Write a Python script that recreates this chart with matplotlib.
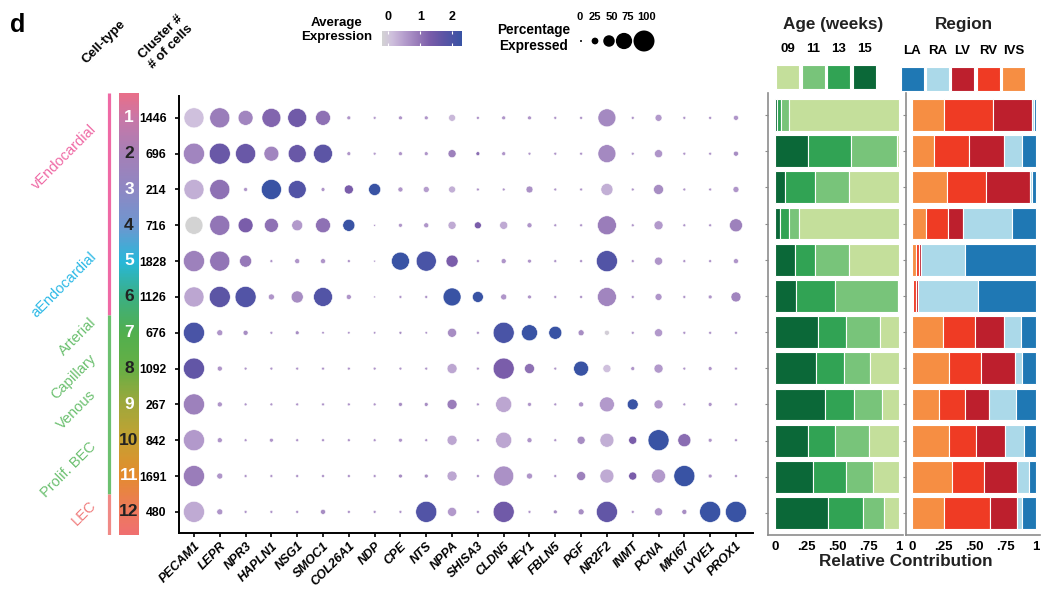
import numpy as np
import matplotlib
matplotlib.use("Agg")
import matplotlib.pyplot as plt
from matplotlib.colors import LinearSegmentedColormap, Normalize
from matplotlib.patches import Rectangle

plt.rcParams['font.family'] = ['Liberation Sans', 'DejaVu Sans']
plt.rcParams['font.weight'] = 'bold'

# --- data ---
genes = ["PECAM1", "LEPR", "NPR3", "HAPLN1", "NSG1", "SMOC1", "COL26A1", "NDP",
         "CPE", "NTS", "NPPA", "SHISA3", "CLDN5", "HEY1", "FBLN5", "PGF",
         "NR2F2", "INMT", "PCNA", "MKI67", "LYVE1", "PROX1"]
clusters = [str(i) for i in range(1, 13)]
n_cells = [1446, 696, 214, 716, 1828, 1126, 676, 1092, 267, 842, 1691, 480]

# percentage of cells expressing (rows = clusters, cols = genes)
pct_expr = [
    [95, 95, 68, 89, 89, 68, 10, 5, 10, 10, 26, 5, 10, 10, 5, 5, 84, 5, 26, 5, 5, 16],
    [100, 100, 95, 68, 84, 89, 10, 5, 10, 10, 32, 10, 10, 5, 5, 5, 84, 5, 32, 5, 5, 16],
    [95, 95, 10, 95, 84, 10, 37, 53, 16, 21, 26, 5, 5, 26, 5, 5, 53, 5, 42, 5, 5, 21],
    [84, 95, 68, 63, 47, 68, 53, 0, 10, 16, 32, 26, 32, 16, 5, 5, 89, 5, 37, 5, 5, 58],
    [100, 95, 53, 5, 16, 16, 5, 0, 84, 95, 53, 5, 16, 10, 5, 5, 100, 5, 32, 5, 5, 16],
    [95, 100, 100, 21, 53, 89, 16, 0, 5, 5, 84, 47, 21, 10, 5, 5, 89, 5, 26, 5, 10, 42],
    [100, 21, 16, 5, 10, 3, 3, 3, 5, 3, 37, 5, 100, 74, 58, 21, 16, 5, 32, 5, 5, 5],
    [100, 16, 5, 5, 5, 5, 5, 5, 5, 5, 42, 5, 100, 42, 5, 68, 32, 10, 37, 5, 10, 5],
    [100, 16, 5, 5, 5, 5, 5, 5, 10, 10, 42, 5, 74, 10, 5, 16, 68, 47, 37, 5, 10, 5],
    [100, 16, 5, 10, 5, 5, 5, 5, 10, 5, 42, 5, 74, 16, 5, 32, 63, 32, 100, 58, 10, 5],
    [100, 21, 5, 5, 5, 5, 5, 5, 10, 10, 42, 5, 95, 21, 5, 37, 63, 32, 63, 100, 10, 5],
    [100, 21, 5, 5, 5, 16, 5, 5, 5, 100, 37, 5, 100, 5, 10, 21, 100, 5, 32, 16, 100, 100],
]
# average scaled expression
avg_expr = [
    [0.1, 0.9, 0.8, 1.2, 1.45, 1.05, 0.6, 0.5, 0.6, 0.6, 0.2, 0.6, 0.6, 0.6, 0.6, 0.6, 0.75, 0.6, 0.55, 0.6, 0.6, 0.6],
    [0.8, 1.55, 1.55, 0.8, 1.55, 1.75, 0.6, 0.5, 0.6, 0.6, 0.85, 1.1, 0.6, 0.6, 0.6, 0.6, 0.75, 0.6, 0.6, 0.6, 0.6, 0.7],
    [0.3, 1.05, 0.6, 2.3, 1.9, 0.6, 1.3, 2.3, 0.6, 0.5, 0.3, 0.6, 0.6, 0.65, 0.6, 0.6, 0.3, 0.6, 0.7, 0.6, 0.6, 0.6],
    [-0.2, 1.0, 1.3, 1.05, 0.55, 1.05, 2.3, 0.6, 0.6, 0.6, 0.35, 1.3, 0.35, 0.6, 0.6, 0.6, 0.9, 0.6, 0.55, 0.6, 0.6, 0.85],
    [0.85, 1.0, 0.95, 0.6, 0.6, 0.6, 0.6, 0.6, 2.3, 2.05, 1.3, 0.6, 0.6, 0.6, 0.6, 0.6, 1.9, 0.6, 0.6, 0.6, 0.6, 0.6],
    [0.4, 1.75, 1.9, 0.6, 0.7, 1.9, 0.6, 0.6, 0.6, 0.6, 2.3, 2.3, 0.6, 0.6, 0.6, 0.6, 0.8, 0.6, 0.6, 0.6, 0.6, 0.8],
    [2.05, 0.6, 0.7, 0.6, 0.7, 0.6, 0.6, 0.6, 0.7, 0.6, 0.7, 0.6, 2.05, 2.3, 2.3, 0.7, -0.1, 0.6, 0.55, 0.6, 0.6, 0.6],
    [1.65, 0.6, 0.6, 0.6, 0.6, 0.6, 0.6, 0.6, 0.6, 0.6, 0.4, 0.6, 1.3, 1.05, 0.6, 2.3, 0.1, 0.6, 0.55, 0.6, 0.6, 0.6],
    [0.85, 0.6, 0.6, 0.6, 0.6, 0.6, 0.6, 0.6, 0.7, 0.7, 0.9, 0.6, 0.4, 0.6, 0.6, 0.6, 0.55, 2.3, 0.55, 0.6, 0.6, 0.6],
    [0.55, 0.6, 0.6, 0.6, 0.6, 0.6, 0.6, 0.6, 0.6, 0.6, 0.4, 0.6, 0.4, 0.6, 0.6, 0.7, 0.3, 1.3, 2.3, 1.1, 0.6, 0.6],
    [0.9, 0.6, 0.6, 0.6, 0.6, 0.6, 0.6, 0.6, 0.7, 0.7, 0.4, 0.6, 0.65, 0.6, 0.6, 0.85, 0.35, 1.3, 0.55, 2.3, 0.6, 0.6],
    [0.35, 0.6, 0.6, 0.6, 0.6, 0.7, 0.6, 0.6, 0.6, 1.9, 0.55, 0.6, 1.45, 0.6, 0.7, 0.7, 1.65, 0.6, 0.6, 0.7, 2.3, 2.3],
]

# cell types: label, label row position, colour
cell_types = ["vEndocardial", "aEndocardial", "Arterial", "Capillary", "Venous", "Prolif. BEC", "LEC"]
cell_type_rows = [1.09, 4.66, 6.12, 7.23, 8.16, 9.83, 11.03]
cell_type_colors = ["#ef6aa5", "#2db9e6", "#6cc070", "#6cc070", "#6cc070", "#6cc070", "#f07c7c"]
# lineage bar segments (first cluster idx, last cluster idx, colour)
lineage_segments = [(0, 5, "#ef6aa5"), (6, 10, "#6cc070"), (11, 11, "#f08a86")]

cluster_colors = ["#e86f8a", "#c878a8", "#a580b7", "#8e88c4", "#6e97d0", "#28b8da",
                  "#3caf83", "#52b04f", "#66af45", "#9fa83c", "#c5a232", "#e48c2e",
                  "#ee7a5c", "#f07070"]

age_labels = ["09", "11", "13", "15"]
age_colors = ["#c4df9b", "#78c47a", "#31a354", "#0b6838"]
w09 = [0.89, 0.02, 0.40, 0.81, 0.40, 0.01, 0.15, 0.23, 0.14, 0.24, 0.21, 0.12]
w11 = [0.06, 0.37, 0.28, 0.08, 0.28, 0.51, 0.28, 0.21, 0.22, 0.28, 0.22, 0.17]
w13 = [0.03, 0.34, 0.24, 0.07, 0.16, 0.31, 0.22, 0.23, 0.24, 0.21, 0.26, 0.28]
w15 = [0.02, 0.27, 0.08, 0.04, 0.16, 0.17, 0.35, 0.33, 0.40, 0.27, 0.31, 0.43]

region_labels = ["LA", "RA", "LV", "RV", "IVS"]
region_colors = ["#1f78b4", "#abd9e9", "#bd1f2d", "#ef3b24", "#f68e43"]
reg_LA = [0.015, 0.11, 0.03, 0.19, 0.575, 0.47, 0.12, 0.11, 0.16, 0.10, 0.06, 0.11]
reg_RA = [0.015, 0.15, 0.02, 0.40, 0.35, 0.48, 0.14, 0.06, 0.22, 0.15, 0.09, 0.04]
reg_LV = [0.32, 0.28, 0.35, 0.12, 0.015, 0.015, 0.23, 0.27, 0.19, 0.23, 0.27, 0.22]
reg_RV = [0.39, 0.28, 0.32, 0.18, 0.025, 0.03, 0.26, 0.26, 0.21, 0.22, 0.26, 0.37]
reg_IVS = [0.26, 0.18, 0.28, 0.11, 0.035, 0.005, 0.25, 0.30, 0.22, 0.30, 0.32, 0.26]

size_legend = [0, 25, 50, 75, 100]

# --- figure ---
W, H = 1044, 595
fig = plt.figure(figsize=(W / 100, H / 100), dpi=100)


def px_axes(x0, y0, x1, y1):
    return fig.add_axes([x0 / W, 1 - y1 / H, (x1 - x0) / W, (y1 - y0) / H])


def dot_size(p):
    d = 2 + 0.19 * np.asarray(p, dtype=float)  # diameter in px
    return (d * 0.72) ** 2


cmap = LinearSegmentedColormap.from_list("expr", [
    (0.0, "#d3d3d3"), (0.12, "#cfc0dd"), (0.28, "#b59dcd"), (0.44, "#9a7dba"),
    (0.60, "#7a5daa"), (0.76, "#5f55a5"), (0.88, "#4c54a6"), (1.0, "#3953a4")])
norm = Normalize(-0.2, 2.3)

nrow, ncol = len(clusters), len(genes)

# overlay in pixel coords for headers / legends
ov = fig.add_axes([0, 0, 1, 1])
ov.set_xlim(0, W)
ov.set_ylim(H, 0)
ov.axis("off")

# dot plot
ax = px_axes(179, 96, 753, 533)
xx, yy = np.meshgrid(np.arange(ncol), np.arange(nrow))
ax.scatter(xx.ravel(), yy.ravel(), s=dot_size(np.array(pct_expr).ravel()),
           c=np.array(avg_expr).ravel(), cmap=cmap, norm=norm,
           edgecolors="white", linewidths=0.4, zorder=3)
ax.set_xlim(-0.58, ncol - 1 + 0.66)
ax.set_ylim(nrow - 1 + 0.59, -0.61)
for s in ["top", "right"]:
    ax.spines[s].set_visible(False)
for s in ["left", "bottom"]:
    ax.spines[s].set_linewidth(1.4)
ax.set_xticks(range(ncol))
ax.set_xticklabels(genes, rotation=45, ha="right", rotation_mode="anchor",
                   fontsize=9, fontstyle="italic", fontweight="bold")
ax.set_yticks(range(nrow))
ax.set_yticklabels([str(n) for n in n_cells], fontsize=8.8, fontweight="bold")
ax.tick_params(axis="both", length=3, width=1.2, color="black")
ax.tick_params(axis="y", pad=6)
ax.tick_params(axis="x", pad=2)

# cluster colour strip
axc = px_axes(119, 93, 139, 535)
ctop, cbot = -0.69, nrow - 1 + 0.65
anchors = [ctop] + list(range(nrow)) + [cbot]
pos = [(a - ctop) / (cbot - ctop) for a in anchors]
ccmap = LinearSegmentedColormap.from_list("cl", list(zip(pos, cluster_colors)))
axc.imshow(np.linspace(0, 1, 400).reshape(-1, 1), cmap=ccmap, aspect="auto",
           extent=(0, 1, cbot, ctop))
axc.set_xlim(0, 1)
axc.set_ylim(cbot, ctop)
axc.axis("off")
for i, c in enumerate(clusters):
    axc.text(0.5, i, c, ha="center", va="center", fontsize=12.5, fontweight="bold",
             color="white" if i % 2 == 0 else "#222222")

# lineage bar + cell-type labels
axl = px_axes(104, 93, 114, 535)
axl.set_xlim(0, 1)
axl.set_ylim(cbot, ctop)
axl.axis("off")
for a, b, col in lineage_segments:
    y0 = ctop if a == 0 else a - 0.5
    y1 = cbot if b == nrow - 1 else b + 0.5
    axl.plot([0.5, 0.5], [y0, y1], color=col, lw=2.3, solid_capstyle="butt")
for lab, r, col in zip(cell_types, cell_type_rows, cell_type_colors):
    axl.text(-0.5, r, lab, ha="right", va="center", rotation=45, fontsize=10.5,
             fontweight="normal", color=col, clip_on=False)


# stacked bar panels
def stacked(axb, series, colors):
    left = np.zeros(nrow)
    for vals, col in zip(series, colors):
        vals = np.asarray(vals)
        axb.barh(np.arange(nrow), vals, left=left, height=0.88, color=col,
                 edgecolor="white", linewidth=0.8)
        left += vals
    axb.set_ylim(nrow - 1 + 0.608, -0.608)
    for s in ["top", "right"]:
        axb.spines[s].set_visible(False)
    for s in ["left", "bottom"]:
        axb.spines[s].set_color("#8c8c8c")
        axb.spines[s].set_linewidth(1.2)
    axb.set_yticks(range(nrow))
    axb.set_yticklabels([])
    axb.tick_params(axis="y", length=2, color="#8c8c8c")
    axb.set_xticks([0, 0.25, 0.5, 0.75, 1])
    axb.set_xticklabels(["0", ".25", ".50", ".75", "1"], fontsize=9.5, fontweight="bold")
    axb.tick_params(axis="x", length=0, pad=4)


axa = px_axes(768, 93, 903, 535)
stacked(axa, [w15, w13, w11, w09], age_colors[::-1])
axa.set_xlim(-0.056, 1.032)
axr = px_axes(906, 93, 1040, 535)
stacked(axr, [reg_IVS, reg_RV, reg_LV, reg_RA, reg_LA], region_colors[::-1])
axr.set_xlim(-0.048, 1.032)
ov.text(906, 562, "Relative Contribution", ha="center", va="center", fontsize=12.3,
        fontweight="bold", color="#222222")

# headers
ov.text(10, 25, "d", ha="left", va="center", fontsize=18, fontweight="bold")
ov.text(104, 42, "Cell-type", ha="center", va="center", rotation=45, fontsize=9.5,
        fontweight="bold")
ov.text(166, 42, "Cluster #\n# of cells", ha="center", va="center", rotation=45,
        fontsize=9.5, fontweight="bold", linespacing=1.3, multialignment="right")

# expression colour legend
ov.text(337, 30, "Average\nExpression", ha="center", va="center", fontsize=9.5,
        fontweight="bold", linespacing=1.2)
axcb = px_axes(382, 31, 462, 46)
axcb.imshow(np.linspace(-0.2, 2.3, 256).reshape(1, -1), cmap=cmap, norm=norm,
            aspect="auto", extent=(-0.2, 2.3, 0, 1))
axcb.set_xlim(-0.2, 2.3)
axcb.set_yticks([])
axcb.set_xticks([0, 1, 2])
axcb.xaxis.tick_top()
axcb.set_xticklabels(["0", "1", "2"], fontsize=9, fontweight="bold")
axcb.tick_params(axis="x", direction="in", length=2.5, color="white", pad=6,
                 bottom=True, top=True)
for s in axcb.spines.values():
    s.set_visible(False)

# size legend
ov.text(534, 38, "Percentage\nExpressed", ha="center", va="center", fontsize=9.8,
        fontweight="bold", linespacing=1.2)
leg_x = [581, 595, 609, 624, 644]
leg_lx = [580, 595, 612, 628, 647]
ov.scatter(leg_x, [41] * len(size_legend), s=dot_size(size_legend), color="black",
           edgecolors="none")
for lx, v in zip(leg_lx, size_legend):
    ov.text(lx, 17, str(v), ha="center", va="center", fontsize=8, fontweight="bold")

# age legend
ov.text(833, 24, "Age (weeks)", ha="center", va="center", fontsize=12.3,
        fontweight="bold", color="#222222")
age_x = [776, 801.5, 827, 852.5]
for x0, lab, col in zip(age_x, age_labels, age_colors):
    ov.add_patch(Rectangle((x0, 65), 23, 24, facecolor=col, edgecolor="white", lw=0.8))
    ov.text(x0 + 11.5, 49, lab, ha="center", va="center", fontsize=9.5, fontweight="bold")

# region legend
ov.text(964, 24, "Region", ha="center", va="center", fontsize=12.3, fontweight="bold",
        color="#222222")
reg_x = [901, 926, 951, 976.5, 1002]
for x0, lab, col in zip(reg_x, region_labels, region_colors):
    ov.add_patch(Rectangle((x0, 67), 23, 24, facecolor=col, edgecolor="white", lw=0.8))
    ov.text(x0 + 11.5, 51, lab, ha="center", va="center", fontsize=9.5, fontweight="bold")

fig.savefig("out.png", dpi=100)
